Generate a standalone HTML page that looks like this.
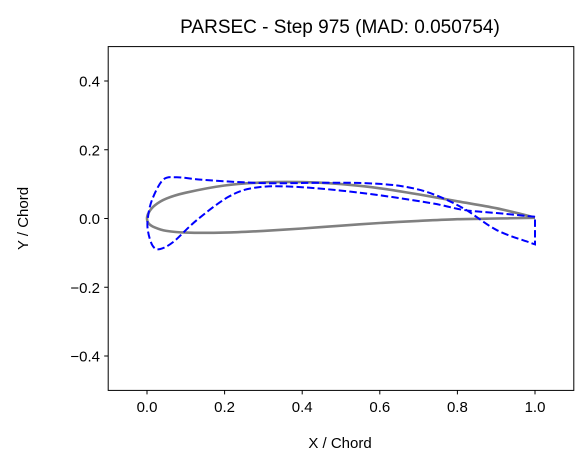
<!DOCTYPE html>
<html><head><meta charset="utf-8"><style>
body{margin:0;background:#fff}
svg{display:block;font-family:"Liberation Sans","DejaVu Sans",sans-serif}
</style></head><body>
<svg id="chart" width="588" height="470">
<rect width="588" height="470" fill="#fff"/>
<text x="340" y="33" font-size="19" text-anchor="middle">PARSEC - Step 975 (MAD: 0.050754)</text>
<g id="plot"></g>
<rect x="108.2" y="46.6" width="465.6" height="343.8" fill="none" stroke="#000" stroke-width="1"/>
<text x="340" y="448" font-size="15" text-anchor="middle">X / Chord</text>
<text x="28" y="218.5" font-size="15" text-anchor="middle" transform="rotate(-90 28 218.5)">Y / Chord</text>
</svg>
<script>
const xTicks=[0,0.2,0.4,0.6,0.8,1.0];
const xTickLabels=["0.0","0.2","0.4","0.6","0.8","1.0"];
const yTicks=[-0.4,-0.2,0,0.2,0.4];
const yTickLabels=["\u22120.4","\u22120.2","0.0","0.2","0.4"];
const grayX=[1,0.9,0.8,0.7,0.6,0.5,0.4,0.3,0.2,0.1,0.05,0.02,0.005,0,0.005,0.02,0.05,0.1,0.2,0.3,0.4,0.5,0.6,0.7,0.8,0.9,1];
const grayY=[0.003,0.03,0.05,0.07,0.088,0.1,0.106,0.105,0.096,0.075,0.058,0.038,0.018,0,-0.015,-0.026,-0.036,-0.041,-0.041,-0.036,-0.029,-0.021,-0.013,-0.007,-0.002,0,0.002];
const blueX=[1,0.9,0.815,0.73,0.557,0.386,0.28,0.21,0.128,0.068,0.033,0.015,0.003,0.002,0.013,0.041,0.077,0.15,0.3,0.45,0.557,0.65,0.73,0.815,0.9,0.987,1,1];
const blueY=[0.005,0.016,0.025,0.045,0.074,0.092,0.09,0.063,-0.005,-0.068,-0.089,-0.08,-0.04,0,0.054,0.112,0.12,0.112,0.103,0.104,0.103,0.095,0.074,0.03,-0.033,-0.07,-0.075,0.005];
const X=v=>147+v*388, Y=v=>218.5-v*343.75;
const NS="http://www.w3.org/2000/svg";
const plot=document.getElementById('plot');
function mk(t,a){const e=document.createElementNS(NS,t);for(const k in a)e.setAttribute(k,a[k]);plot.appendChild(e);return e;}
function smooth(xs,ys,lastStraight){
 const p=xs.map((x,i)=>[X(x),Y(ys[i])]);
 let d='M'+p[0][0].toFixed(1)+','+p[0][1].toFixed(1);
 const n=lastStraight?p.length-2:p.length-1;
 for(let i=0;i<n;i++){
  const p0=p[Math.max(i-1,0)],p1=p[i],p2=p[i+1],p3=p[Math.min(i+2,n)];
  const c1=[p1[0]+(p2[0]-p0[0])/6,p1[1]+(p2[1]-p0[1])/6];
  const c2=[p2[0]-(p3[0]-p1[0])/6,p2[1]-(p3[1]-p1[1])/6];
  d+=' C'+c1.map(v=>v.toFixed(1))+' '+c2.map(v=>v.toFixed(1))+' '+p2.map(v=>v.toFixed(1));
 }
 if(lastStraight){d+=' L'+p[p.length-1].map(v=>v.toFixed(1));}
 return d;
}
const g=mk('path',{d:smooth(grayX,grayY,false),fill:'none',stroke:'#808080','stroke-width':2.6,'stroke-linejoin':'round'});


const b=mk('path',{d:smooth(blueX,blueY,true),fill:'none',stroke:'#0000ff','stroke-width':2,'stroke-dasharray':'7.4,3.2'});


xTicks.forEach((v,i)=>{
 const l=mk('line',{x1:X(v),x2:X(v),y1:390.4,y2:394.4,stroke:'#000'});
 
 
 const t=mk('text',{x:X(v),y:412,'font-size':15,'text-anchor':'middle'});t.textContent=xTickLabels[i];
 
 
});
yTicks.forEach((v,i)=>{
 const l=mk('line',{x1:104.2,x2:108.2,y1:Y(v),y2:Y(v),stroke:'#000'});
 
 
 const t=mk('text',{x:100,y:Y(v)+5.5,'font-size':15,'text-anchor':'end'});t.textContent=yTickLabels[i];
 
 
});
</script>
</body></html>
